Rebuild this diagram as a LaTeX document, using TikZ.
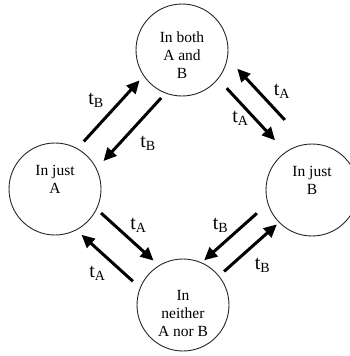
\documentclass[tikz,border=0pt]{standalone}
\usepackage{fontspec}
\setmainfont{Liberation Serif}
\usetikzlibrary{arrows.meta}

\newcommand{\rt}[1]{t\textsubscript{#1}}

\begin{document}
\begin{tikzpicture}[x=1pt, y=-1pt,
    state/.style={circle, draw=black!85, line width=0.9pt, minimum size=92pt, inner sep=0pt},
    statetext/.style={align=center, font=\fontsize{15.5}{18}\selectfont},
    flow/.style={line width=3pt, -{Triangle[length=13pt, width=12pt]}},
    rate/.style={font=\fontsize{20}{22}\selectfont, inner sep=0pt}]
  \useasboundingbox (0,0) rectangle (350,356);

  % --- the four states (text sits a little off centre, as drawn) ---
  \node[state, label={[statetext, yshift=-5pt]center:In both\\A and\\B}] (both) at (182,50) {};
  \node[state, label={[statetext, yshift=10pt]center:In just\\A}] (justA) at (55,189) {};
  \node[state, label={[statetext, yshift=10pt]center:In just\\B}] (justB) at (312,190) {};
  \node[state, label={[statetext, yshift=-8pt]center:In\\neither\\A nor B}] (neither) at (183,305) {};

  % --- transitions: (from, to, side shift, gap at each end) ---
  \foreach \a/\b/\dx/\dy/\g in {%
    justA/both/-6.8/-8.6/6.3, both/justA/13.8/10/4.9,
    both/justB/3.9/-5.7/13.5, justB/both/14/-25.7/14.1,
    justA/neither/8.3/-10.2/4.5, neither/justA/-11.8/11/5.3,
    justB/neither/-17/-10.7/4.6, neither/justB/3/0.4/4.6}{
    \draw[flow, transform canvas={shift={(\dx,\dy)}},
      shorten <=\g pt, shorten >=\g pt] (\a) -- (\b);
  }

  % --- rate labels ---
  \foreach \x/\y/\s [count=\i] in {%
    96/100/B, 148/143/B, 282/91/A, 240.5/118/A,
    138.5/225/A, 97.5/273/A, 220.5/225/B, 262.5/265/B}{
    \node[rate] (rate\i) at (\x,\y) {\rt{\s}};
  }
\end{tikzpicture}
\end{document}
